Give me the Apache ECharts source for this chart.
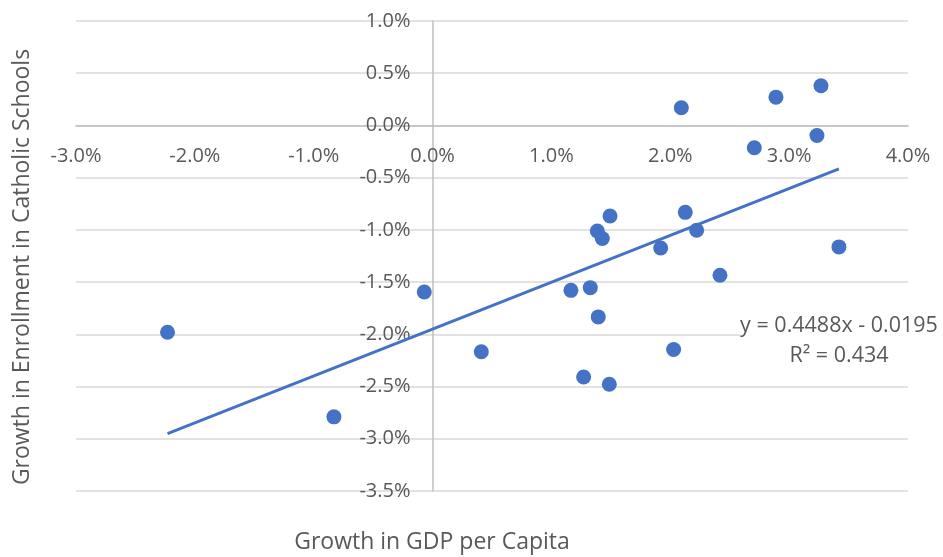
<!DOCTYPE html>
<html>
<head>
<meta charset="utf-8">
<script src="https://cdn.jsdelivr.net/npm/echarts@6/dist/echarts.min.js"></script>
<style>
html,body{margin:0;padding:0;background:#fff;}
#chart{width:943px;height:557px;}
</style>
</head>
<body>
<div id="chart"></div>
<script>
// Data in percent units
const gdpGrowth = [-2.23, -0.83, -0.07, 0.41, 1.164, 1.327, 1.394, 1.386, 1.428, 1.493, 1.919, 2.126, 2.222, 2.418, 3.419, 2.028, 1.271, 1.487, 2.093, 2.889, 3.268, 3.234, 2.707];
const enrollGrowth = [-1.98, -2.79, -1.595, -2.167, -1.579, -1.553, -1.833, -1.01, -1.083, -0.867, -1.173, -0.832, -1.004, -1.434, -1.163, -2.145, -2.408, -2.478, 0.169, 0.271, 0.38, -0.096, -0.213];
const trendSlope = 0.4488;
const trendIntercept = -0.0195;
const equationText = 'y = 0.4488x - 0.0195';
const r2Text = 'R² = 0.434';
const xTitle = 'Growth in GDP per Capita';
const yTitle = 'Growth in Enrollment in Catholic Schools';
const xRange = [-3, 4, 1];
const yRange = [-3.5, 1, 0.5];

const points = gdpGrowth.map((x, i) => [x, enrollGrowth[i]]);
const xMin = Math.min(...gdpGrowth), xMax = Math.max(...gdpGrowth);
const trend = (xp) => (trendSlope * xp / 100 + trendIntercept) * 100;
const trendPts = [[xMin, trend(xMin)], [xMax, trend(xMax)]];

const FONT = '"Open Sans", sans-serif';
const TXT = '#595959';

const chart = echarts.init(document.getElementById('chart'), null, {renderer: 'canvas'});
const option = {
  animation: false,
  backgroundColor: '#ffffff',
  grid: {left: 76, right: 35, top: 21, bottom: 66, containLabel: false},
  xAxis: {
    type: 'value', min: xRange[0], max: xRange[1], interval: xRange[2],
    offset: 0,
    axisLine: {onZero: false, lineStyle: {color: '#bfbfbf', width: 1.5}},
    axisTick: {show: false},
    splitLine: {show: false},
    axisLabel: {color: TXT, fontFamily: FONT, fontSize: 20, margin: 21,
      formatter: v => v.toFixed(1) + '%'}
  },
  yAxis: {
    type: 'value', min: yRange[0], max: yRange[1], interval: yRange[2],
    offset: 0,
    axisLine: {onZero: false, lineStyle: {color: '#bfbfbf', width: 1.5}},
    axisTick: {show: false},
    splitLine: {show: true, lineStyle: {color: '#d9d9d9', width: 1.5}},
    axisLabel: {color: TXT, fontFamily: FONT, fontSize: 20, margin: 22,
      formatter: v => v.toFixed(1) + '%'}
  },
  series: [
    {
      type: 'line', data: trendPts, symbol: 'none', z: 2,
      lineStyle: {color: '#4472C4', width: 3}
    },
    {
      type: 'scatter', data: points, symbolSize: 15, z: 3,
      itemStyle: {color: '#4472C4', opacity: 1}
    }
  ],
  graphic: [
    {type: 'text', z: 10, x: 839, y: 311,
      style: {text: equationText + '\n' + r2Text, fill: TXT, font: '21.5px ' + FONT,
        textAlign: 'center', lineHeight: 30, backgroundColor: '#fff'}},
    {type: 'text', z: 10, x: 432, y: 542,
      style: {text: xTitle, fill: TXT, font: '23px ' + FONT, textAlign: 'center', textVerticalAlign: 'middle'}},
    {type: 'text', z: 10, x: 22, y: 267, rotation: Math.PI / 2,
      style: {text: yTitle, fill: TXT, font: '23px ' + FONT, textAlign: 'center', textVerticalAlign: 'middle'}}
  ]
};
chart.setOption(option);
// Move axes (line + labels) to cross at zero, as in the original
const origin = chart.convertToPixel({gridIndex: 0}, [0, 0]);
const corner = chart.convertToPixel({gridIndex: 0}, [xRange[0], yRange[0]]);
chart.setOption({
  xAxis: {offset: -(corner[1] - origin[1])},
  yAxis: {offset: -(origin[0] - corner[0])}
});
</script>
</body>
</html>
